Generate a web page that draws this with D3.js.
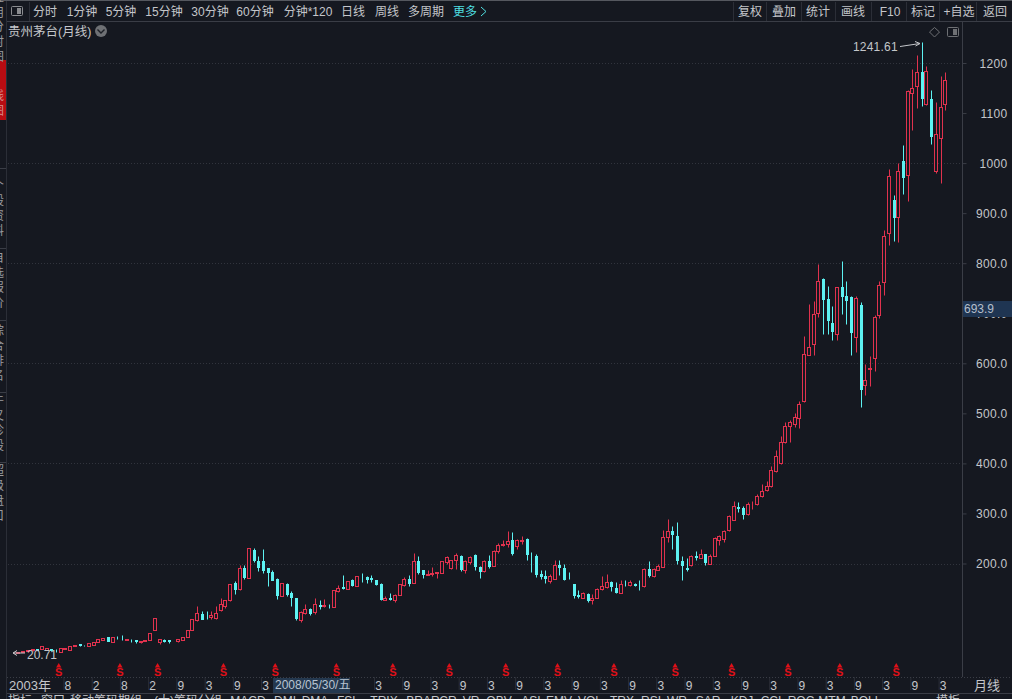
<!DOCTYPE html>
<html>
<head>
<meta charset="utf-8">
<script src="https://cdnjs.cloudflare.com/ajax/libs/d3/7.8.5/d3.min.js"></script>
<style>
  html, body { margin: 0; padding: 0; background: #151820; overflow: hidden; }
  svg { display: block; }
  text { font-family: "Liberation Sans", "Noto Sans CJK SC", sans-serif; }
</style>
</head>
<body>
<div id="chart"></div>
<script>
// monthly candles, oldest first
var opens = [
  21,21.5,22,23,25,27,29,28.3,27,28.5,
  27.5,24,30,27,36,39,38,35,37,43,
  47,53,43,54,52,48,48,47,44,46,
  48,67,43,47,47,44,46,47.5,53,68,
  87,100,96,94,92,107,115,127,161.7,150,
  192,172,227,204,205,192,184,170,136,159,
  141,131,87,101,110,103,117,115,116,114,
  145,154,149,168,155,172,174,171,168,160,
  128,132,127,138,157,169,162,204,187,177,
  179,181,182,202,192,207,215,188,202,216,
  193,186,205,196,225,237,238,246,235,245,
  249,213,214,180,175,166,170,198,192,170,
  160,137,132,140,127,132,150,154,164,152,
  142,162,158,160,158,155,190,175,188,194,
  252,265,255,204,192,197,214,211,218,200,
  215,247,248,266,287,312,310,298,316,319,
  334,346,354,384,400,442,474,479,490,524,
  617,639,700,768,728,680,659,752,734,732,
  652,717,556,589,610,697,762,860,927,892,
  1005,976,1140,1154,1183,1118,1128,984,1050,1118
];
var closes = [
  21.5,22,23,25,27,29,28,35,31.7,28,
  27,30.5,31,36,38,38,37,41,44,49,
  51.5,45,54,53,51,49,47,45,46,47,
  62,92,49,46,45,44,49,53.5,68,89,
  101.7,90,95,97,101,120,128,160,149,191,
  174,230,207,194,188,184,168,138,162,140,
  134,92,104,109,102,119,116,117,115,148,
  152,152,166,158,175,171,169,170,159,129,
  132,130,138,160,170,162,204,184,179,179,
  181,183,204,212,206,216,190,204,212,196,
  186,204,196,224,236,239,245,220,246,247,
  218,212,179,176,171,175,197,194,169,169,
  137,136,142,128,132,150,155,164,155,143,
  160,161,164,158,157,190,177,190,196,252,
  264,258,207,197,190,215,213,219,202,215,
  250,254,264,294,315,311,299,319,317,334,
  344,354,387,415,442,474,483,492,519,619,
  632,698,765,728,686,664,752,734,727,662,
  731,549,566,591,692,757,855,975,892,985,
  972,1144,1150,1182,1130,1184,1055,1058,1112,1167
];
var highs = [
  22,22.5,24,26,28,30,30,35,31.7,29,
  30,30.5,31,36,38,40,38,41,44,49,
  51.5,53,54,55,58,49,49,47,46,47,
  62,92,50,50,47,44,49,53.5,68,90,
  115,106,105,105,115,132,128,160,165,197,
  197,230,230,214,228,192,188,172,162,162,
  145,132,106,119,112,132,127,130,120,148,
  158,177,166,170,175,181,175,178,168,162,
  135,142,140,160,174,177,220,214,188,188,
  194,183,204,214,207,220,217,206,215,218,
  195,206,216,226,240,247,265,263,248,254,
  250,222,219,188,188,179,206,207,200,184,
  160,148,144,141,140,151,175,179,165,164,
  167,168,167,161,168,192,205,192,200,267,
  289,274,282,215,210,216,225,228,219,219,
  253,257,266,297,325,323,314,322,325,338,
  359,364,395,427,455,483,486,500,525,655,
  719,724,799,770,755,715,752,805,765,734,
  734,722,599,615,697,764,866,988,937,1000,
  1037,1147,1189,1215,1241.61,1195,1147,1122,1175,1182
];
var lows = [
  20.71,21,21.5,22.5,24,26,27,28.3,27,26,
  24,24,30,27,36,36,36,35,37,43,
  47,45,43,50,47,48,44,42,41,46,
  48,67,39,43,41,43,44,47,53,67,
  86,90,90,90,90,106,111,126,139,147,
  169,172,202,186,182,156,168,129,135,135,
  115,88,84,99,98,100,110,114,112,114,
  144,150,149,156,155,164,161,164,157,128,
  127,127,124,137,156,155,162,179,171,177,
  176,171,181,200,190,190,185,182,200,187,
  172,184,192,195,220,234,232,216,228,238,
  207,184,174,170,162,162,169,177,167,169,
  132,132,131,124,119,131,148,152,146,142,
  141,155,156,156,147,154,174,174,187,193,
  242,229,199,167,186,196,207,210,197,199,
  214,237,243,264,286,302,289,297,308,316,
  332,344,352,382,399,440,443,472,470,522,
  616,617,692,659,659,647,647,698,678,617,
  622,512,537,555,584,690,736,837,844,842,
  939,924,1067,1110,1115,1117,1039,980,960,1106
];

var priceTicks = [200, 300, 400, 500, 600, 700, 800, 900, 1000, 1100, 1200];
var gridPrices = [200, 400, 600, 800, 1000, 1200];
// three ticks sit under the hovered date, so they are left out
var monthTickIdx = [12,18,24,30,36,42,48,54,78,84,90,96,102,108,114,120,126,132,138,144,150,156,162,168,174,180,186,192,198];
var monthLabels = ['8','2','8','2','9','3','9','3','3','9','3','9','3','9','3','9','3','9','3','9','3','9','3','9','3','9','3','9','3'];
var dividendIdx = [11,24,32,46,57,70,82,94,106,117,129,142,154,166,177,189];
var lastPrice = 693.9;
var highMark = 1241.61;
var lowMark = 20.71;

var leftTools = ['分时','1分钟','5分钟','15分钟','30分钟','60分钟','分钟*120','日线','周线','多周期'];
var leftToolX = [45,82,121,164,210,255,308,353,387,426];
var rightTools = ['复权','叠加','统计','画线','F10','标记','+自选','返回'];
var rightToolX = [750,784,818,853,890,923,959,995];
var toolSeps = [733,766,801,835,871,906,939,976];
var bottomTabs = ['指标','窗口','移动筹码期组','(大)筹码分组','MACD','DMI','DMA','FSL','TRIX','BRAR','CR','VR','OBV','ASI','EMV','VOL','TRX','RSI','WR','SAR','KDJ','CCI','ROC','MTM','BOLL','模板'];
var bottomTabX = [20,53,106,188,248,285,315,348,384,423,448,471,499,531,559,590,622,651,677,708,742,771,801,832,866,948];
var sideTabs = ['应用','分时图','K线图','个股资料','自选报价','综合排名','牛叉诊股','超级盘口'];
var sideTabY = [2,31,85,190,262,335,405,475];

var width = 1012, height = 699;
var bg = '#151820', up = '#e0324e', down = '#5df2f2', ink = '#c4c6ca', rule = '#3a3d46';

var svg = d3.select('#chart').append('svg')
    .attr('width', width)
    .attr('height', height);

svg.append('rect').attr('width', width).attr('height', height).attr('fill', bg);

// index 0 sits at x = 9, one month is 4.705 px
var x = d3.scaleLinear().domain([0, opens.length - 1]).range([9, 945.3]);
var y = d3.scaleLinear().domain([200, 1200]).range([563.5, 63]);
var px = function(i) { return Math.round(x(i)) + 0.5; };
var py = function(v) { return Math.round(y(v)) + 0.5; };
var isUp = function(i) { return closes[i] >= opens[i]; };

// dotted grid
svg.append('g').selectAll('line')
  .data(gridPrices)
  .enter().append('line')
    .attr('x1', 8)
    .attr('x2', 962)
    .attr('y1', py)
    .attr('y2', py)
    .attr('stroke', '#31343d')
    .attr('stroke-dasharray', '1,2');

// candles, red ones hollow and a pixel wider
var candles = svg.append('g').selectAll('g')
    .data(d3.range(opens.length))
    .enter().append('g');

candles.append('line')
    .attr('x1', px)
    .attr('x2', px)
    .attr('y1', function(i) { return py(highs[i]); })
    .attr('y2', function(i) { return py(lows[i]); })
    .attr('stroke', function(i) { return isUp(i) ? up : down; })
    .attr('stroke-width', 1);

candles.append('rect')
    .attr('x', function(i) { return isUp(i) ? px(i) - 2 : px(i) - 1; })
    .attr('width', function(i) { return isUp(i) ? 3 : 2; })
    .attr('y', function(i) { return py(Math.max(opens[i], closes[i])); })
    .attr('height', function(i) { return Math.abs(py(opens[i]) - py(closes[i])); })
    .attr('fill', function(i) { return isUp(i) ? bg : down; })
    .attr('stroke', function(i) { return isUp(i) ? up : down; })
    .attr('stroke-width', 1);

// price axis on the right
var yAxis = d3.axisRight(y)
    .tickValues(priceTicks)
    .tickSize(4)
    .tickFormat(function(d) { return d >= 1000 ? String(d) : d.toFixed(1); });

var yG = svg.append('g')
    .attr('transform', 'translate(962.5,0)')
    .call(yAxis);
yG.select('.domain').remove();
yG.selectAll('line').attr('stroke', rule);
yG.selectAll('text')
    .attr('x', 45)
    .attr('dy', '0.36em')
    .attr('text-anchor', 'end')
    .attr('fill', ink)
    .attr('font-size', 12)
    .attr('letter-spacing', 0.3)
    .attr('font-family', '"Liberation Sans", sans-serif');

// month axis along the bottom
var xAxis = d3.axisBottom(x)
    .tickValues(monthTickIdx)
    .tickSize(13)
    .tickFormat(function(d, i) { return monthLabels[i]; });

var xG = svg.append('g')
    .attr('transform', 'translate(0,677)')
    .call(xAxis);
xG.select('.domain').remove();
xG.selectAll('line').attr('stroke', '#2b2e37').attr('transform', 'translate(-2,0)');
xG.selectAll('text')
    .attr('fill', ink)
    .attr('font-size', 12)
    .attr('dx', 2)
    .attr('y', 13)
    .attr('dy', 0)
    .attr('font-family', '"Liberation Sans", sans-serif');

svg.append('text').attr('x', 9).attr('y', 690).attr('fill', ink).attr('font-size', 13).text('2003年');
svg.append('text').attr('x', 974).attr('y', 690).attr('fill', ink).attr('font-size', 13).text('月线');

// hovered date
svg.append('rect').attr('x', 273).attr('y', 678).attr('width', 77).attr('height', 15).attr('fill', '#24384f');
svg.append('text').attr('x', 275).attr('y', 689).attr('fill', '#b8c4d2').attr('font-size', 12).text('2008/05/30/五');

// dividend markers
var marks = svg.append('g').selectAll('g')
    .data(dividendIdx)
    .enter().append('g')
    .attr('transform', function(d) { return 'translate(' + (x(d) - 2) + ',0)'; });
marks.append('path')
    .attr('d', d3.symbol().type(d3.symbolTriangle).size(12))
    .attr('transform', 'translate(0,666)')
    .attr('fill', '#e01018');
marks.append('text')
    .attr('y', 676)
    .attr('text-anchor', 'middle')
    .attr('font-size', 11)
    .attr('font-weight', 'bold')
    .attr('fill', '#e01018')
    .text('S');

// high and low callouts
var highIdx = highs.indexOf(highMark), lowIdx = lows.indexOf(lowMark);
svg.append('text')
    .attr('x', x(highIdx) - 24)
    .attr('y', y(highMark) + 9)
    .attr('text-anchor', 'end')
    .attr('fill', ink)
    .attr('font-size', 12)
    .attr('letter-spacing', 0.2)
    .text(highMark.toFixed(2));
svg.append('path')
    .attr('d', 'M900,46.5L920,43.5M915,41.5L920,43.5L915.5,46')
    .attr('fill', 'none')
    .attr('stroke', ink);
svg.append('text')
    .attr('x', x(lowIdx) + 18)
    .attr('y', y(lowMark) + 6)
    .attr('fill', ink)
    .attr('font-size', 12)
    .text(lowMark);
svg.append('path')
    .attr('d', 'M25,653L13,653M17,650.5L13,653L17,655.5')
    .attr('fill', 'none')
    .attr('stroke', ink);

// last price tag
svg.append('rect').attr('x', 962).attr('y', 301).attr('width', 50).attr('height', 16).attr('fill', '#1f3552');
svg.append('text').attr('x', 964).attr('y', 312.5).attr('fill', '#b4bfcc').attr('font-size', 12).text(lastPrice);

// frame
svg.append('line').attr('x1', 962.5).attr('x2', 962.5).attr('y1', 21).attr('y2', 677).attr('stroke', rule);
svg.append('line').attr('x1', 6.5).attr('x2', 6.5).attr('y1', 0).attr('y2', height).attr('stroke', '#2b2e37');
svg.append('line').attr('x1', 7).attr('x2', width).attr('y1', 21.5).attr('y2', 21.5).attr('stroke', rule);
svg.append('line').attr('x1', 7).attr('x2', width).attr('y1', 677.5).attr('y2', 677.5).attr('stroke', rule).attr('stroke-dasharray', '1,2');
svg.append('line').attr('x1', 7).attr('x2', width).attr('y1', 693.5).attr('y2', 693.5).attr('stroke', rule);
svg.append('rect').attr('width', width).attr('height', 1).attr('fill', '#55585f');

// toolbar
var tools = svg.append('g').attr('fill', ink).attr('font-size', 12).attr('text-anchor', 'middle');
tools.selectAll('.left')
    .data(leftTools)
    .enter().append('text')
    .attr('class', 'left')
    .attr('x', function(d, i) { return leftToolX[i]; })
    .attr('y', 15.5)
    .text(function(d) { return d; });
tools.selectAll('.right')
    .data(rightTools)
    .enter().append('text')
    .attr('class', 'right')
    .attr('x', function(d, i) { return rightToolX[i]; })
    .attr('y', 15.5)
    .text(function(d) { return d; });
svg.append('text').attr('x', 453).attr('y', 15.5).attr('fill', '#4fdfe0').attr('font-size', 12).text('更多');
svg.append('path').attr('d', 'M481,7L486,11.5L481,16').attr('fill', 'none').attr('stroke', '#4fdfe0');
svg.append('g').selectAll('line')
    .data(toolSeps.concat([29]))
    .enter().append('line')
    .attr('x1', function(d) { return d + 0.5; })
    .attr('x2', function(d) { return d + 0.5; })
    .attr('y1', 2)
    .attr('y2', 21)
    .attr('stroke', '#2b2e37');
svg.append('rect').attr('x', 11.5).attr('y', 6.5).attr('width', 11).attr('height', 9).attr('rx', 1).attr('fill', 'none').attr('stroke', '#8a8c90');
svg.append('rect').attr('x', 17).attr('y', 8).attr('width', 4).attr('height', 6).attr('fill', '#8a8c90');

// title
svg.append('text').attr('x', 8).attr('y', 36).attr('fill', ink).attr('font-size', 12.5).text('贵州茅台(月线)');
svg.append('circle').attr('cx', 101).attr('cy', 31).attr('r', 6).attr('fill', '#6e7074');
svg.append('path').attr('d', 'M97.5,29.5L101,33L104.5,29.5').attr('fill', 'none').attr('stroke', '#1c1f26').attr('stroke-width', 1.4);

// icons top right of the plot
svg.append('path').attr('d', 'M934.5,27.5L939.5,32L934.5,37L929.5,32Z').attr('fill', 'none').attr('stroke', '#6e7074');
svg.append('rect').attr('x', 947.5).attr('y', 27.5).attr('width', 11).attr('height', 9).attr('rx', 1).attr('fill', 'none').attr('stroke', '#6e7074');
svg.append('rect').attr('x', 953).attr('y', 29).attr('width', 4).attr('height', 6).attr('fill', '#6e7074');

// bottom tab row, cut by the window edge
svg.append('g').selectAll('text')
    .data(bottomTabs)
    .enter().append('text')
    .attr('x', function(d, i) { return bottomTabX[i]; })
    .attr('y', 705)
    .attr('text-anchor', 'middle')
    .attr('fill', ink)
    .attr('font-size', 12)
    .text(function(d) { return d; });

// side bar, only the right edge of the tabs shows
svg.append('rect').attr('x', 0).attr('y', 60).attr('width', 6).attr('height', 60).attr('fill', '#b80c12');
svg.append('clipPath').attr('id', 'side').append('rect').attr('width', 5).attr('height', height);
var side = svg.append('g').attr('clip-path', 'url(#side)');
sideTabs.forEach(function(label, i) {
  label.split('').forEach(function(ch, j) {
    side.append('text')
      .attr('x', -8)
      .attr('y', sideTabY[i] + j * 15)
      .attr('fill', i == 2 ? '#d88a8a' : '#9a9ca0')
      .attr('font-size', 12)
      .text(ch);
  });
});
svg.append('g').selectAll('line')
    .data([168, 248, 320, 392, 462])
    .enter().append('line')
    .attr('x1', 0)
    .attr('x2', 6)
    .attr('y1', function(d) { return d + 0.5; })
    .attr('y2', function(d) { return d + 0.5; })
    .attr('stroke', '#3a3d46');
</script>
</body>
</html>
